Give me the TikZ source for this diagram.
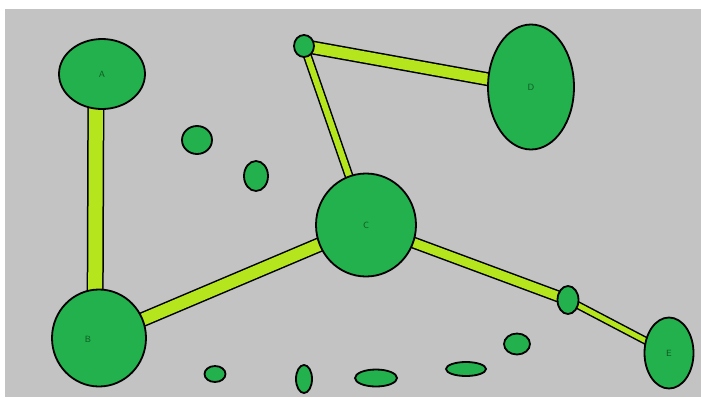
\documentclass[tikz,border=0pt]{standalone}
\usepackage{tikz}
\usetikzlibrary{shapes.geometric,backgrounds}
\definecolor{blobGreen}{HTML}{22B14C}
\definecolor{barLime}{HTML}{B5E61D}
\definecolor{paneGray}{HTML}{C3C3C3}
\definecolor{tagGreen}{HTML}{0F5A24}

\begin{document}
\begin{tikzpicture}[x=1pt,y=-1pt,font=\sffamily\small,
  blob/.style={ellipse,draw=black,line width=1.8pt,fill=blobGreen,
               inner sep=0pt,text=tagGreen},
  bar/.style={draw=black,line width=1.5pt,double=barLime}]
  \useasboundingbox (0,0) rectangle (701,397);

  % big named nodes
  \node[blob,minimum width=86pt,minimum height=70pt] (A) at (102,74) {A};
  \node[blob,minimum width=94pt,minimum height=97pt,
        label={[text=tagGreen,xshift=-11pt,yshift=-1pt]center:B}] (B) at (99,338) {};
  \node[blob,minimum width=100pt,minimum height=103pt] (C) at (366,225) {C};
  \node[blob,minimum width=86pt,minimum height=125pt] (D) at (531,87) {D};
  \node[blob,minimum width=49pt,minimum height=71pt] (E) at (669,353) {E};

  % small nodes
  \node[blob,minimum width=20pt,minimum height=22pt] (top) at (304,46) {};
  \node[blob,minimum width=21pt,minimum height=28pt] (mid) at (568,300) {};
  \node[blob,minimum width=30pt,minimum height=28pt] (dotI) at (197,140) {};
  \node[blob,minimum width=24pt,minimum height=30pt] (dotJ) at (256,176) {};
  \node[blob,minimum width=26pt,minimum height=21pt] (dotH) at (517,344) {};
  \node[blob,minimum width=21pt,minimum height=16pt] (dotK) at (215,374) {};
  \node[blob,minimum width=16pt,minimum height=28pt] (dotL) at (304,379) {};
  \node[blob,minimum width=42pt,minimum height=17pt] (dotM) at (376,378) {};
  \node[blob,minimum width=40pt,minimum height=14pt] (dotN) at (466,369) {};

  \begin{scope}[on background layer]
    \fill[white] (0,0) rectangle (701,397);
    \fill[paneGray] (5,9) rectangle (701,397);
    % bars
    \draw[bar,double distance=14pt] ([xshift=-6pt]A.center) -- ([xshift=-4pt]B.center);
    \draw[bar,double distance=12pt] (B.center) -- (C.center);
    \draw[bar,double distance=6pt] (top.center) -- (C.center);
    \draw[bar,double distance=11pt] (top.center) -- (D.center);
    \draw[bar,double distance=9pt] (C.center) -- (mid.center);
    \draw[bar,double distance=5pt] (mid.center) -- (E.center);
  \end{scope}
\end{tikzpicture}
\end{document}
